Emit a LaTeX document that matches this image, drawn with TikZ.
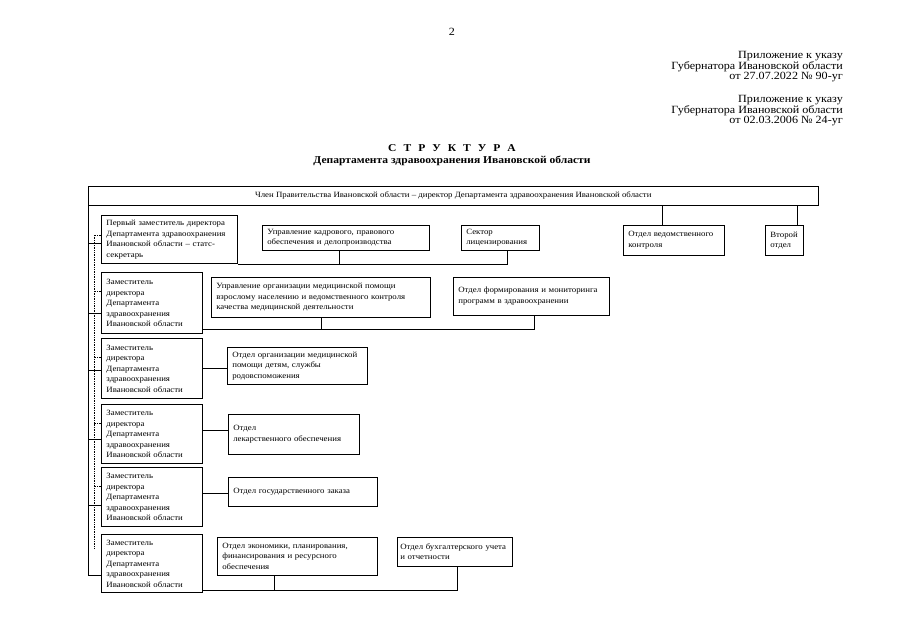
\documentclass[tikz,border=0pt]{standalone}
\usepackage{fontspec}
\setmainfont{Liberation Serif}[FakeStretch=1.1]
\usepackage{tikz}

\tikzset{
  unit/.style={draw, line width=0.6pt, anchor=north west, align=left, inner xsep=5pt, inner ysep=1pt, font=\fontsize{8}{10.5}\selectfont},
  dep/.style={unit, line width=0.9pt, text width=91pt},
  note/.style={anchor=north east, align=right, inner sep=0pt, font=\fontsize{11}{10.7}\selectfont},
  link/.style={line width=0.6pt},
  aux/.style={line width=0.7pt, densely dotted}
}

\begin{document}
\begin{tikzpicture}[x=1pt, y=-1pt]
        \useasboundingbox[fill=white] (0,0) rectangle (904,639);

        \node[anchor=north, inner sep=0pt, font=\fontsize{11}{12}\selectfont] (pg) at (452,28) {2};
        \node[note] (ann1) at (843,51) {Приложение к указу\\Губернатора Ивановской области\\от 27.07.2022 № 90-уг};
        \node[note] (ann2) at (843,95) {Приложение к указу\\Губернатора Ивановской области\\от 02.03.2006 № 24-уг};
        \node[anchor=north, align=center, inner sep=0pt, font=\bfseries\fontsize{10.5}{12}\selectfont] (title) at (452,144)
            {С\hspace{7pt}Т\hspace{7pt}Р\hspace{7pt}У\hspace{7pt}К\hspace{7pt}Т\hspace{7pt}У\hspace{7pt}Р\hspace{7pt}А\\Департамента здравоохранения Ивановской области};

        % head of the department
        \node[unit, align=center, minimum width=730pt, minimum height=19pt] (head) at (88,186)
            {Член Правительства Ивановской области – директор Департамента здравоохранения Ивановской области};

        % deputies
        \node[dep, text width=126pt, minimum height=48pt] (D1) at (101,215) {Первый заместитель директора\\Департамента здравоохранения\\Ивановской области – статс-\\секретарь};
        \node[dep, minimum height=61pt] (D2) at (101,272) {Заместитель\\директора\\Департамента\\здравоохранения\\Ивановской области};
        \node[dep, minimum height=60pt] (D3) at (101,338) {Заместитель\\директора\\Департамента\\здравоохранения\\Ивановской области};
        \node[dep, minimum height=59pt] (D4) at (101,404) {Заместитель\\директора\\Департамента\\здравоохранения\\Ивановской области};
        \node[dep, minimum height=59pt] (D5) at (101,467) {Заместитель\\директора\\Департамента\\здравоохранения\\Ивановской области};
        \node[dep, minimum height=58pt] (D6) at (101,534) {Заместитель\\директора\\Департамента\\здравоохранения\\Ивановской области};

        % departments
        \node[unit, text width=157pt, minimum height=25pt] (kadr) at (262,225) {Управление кадрового, правового\\обеспечения и делопроизводства};
        \node[unit, text width=68pt, minimum height=25pt] (lic) at (461,225) {Сектор\\лицензирования};
        \node[unit, text width=91pt, minimum height=30pt] (ved) at (623,225) {Отдел ведомственного\\контроля};
        \node[unit, text width=28pt, minimum height=30pt] (vtor) at (765,225) {Второй\\отдел};
        \node[unit, text width=209pt, minimum height=40pt] (uprorg) at (211,277) {Управление организации медицинской помощи\\взрослому населению и ведомственного контроля\\качества медицинской деятельности};
        \node[unit, text width=146pt, minimum height=38pt] (form) at (453,277) {Отдел формирования и мониторинга\\программ в здравоохранении};
        \node[unit, text width=130pt, minimum height=37pt] (det) at (227,347) {Отдел организации медицинской\\помощи детям, службы\\родовспоможения};
        \node[unit, text width=121pt, minimum height=40pt] (lek) at (228,414) {Отдел\\лекарственного обеспечения\\[8pt]};
        \node[unit, text width=139pt, minimum height=29pt] (zak) at (228,477) {Отдел государственного заказа};
        \node[unit, text width=150pt, minimum height=38pt] (eko) at (217,537) {Отдел экономики, планирования,\\финансирования и ресурсного\\обеспечения};
        \node[unit, inner xsep=3pt, text width=109pt, minimum height=29pt] (buh) at (397,537) {Отдел бухгалтерского учета\\и отчетности};

        % left spines
        \coordinate (spine) at (head.south west);
        \coordinate (dots) at ([xshift=-7pt]D1.west);
        \draw[link] (spine) |- ([yshift=-12pt]D6.west);
        \draw[link] ([yshift=-4pt]D1.west) -- ([yshift=-4pt]D1.west -| spine);
        \draw[link] ([yshift=-10pt]D2.west) -- ([yshift=-10pt]D2.west -| spine);
        \draw[link] ([yshift=-2pt]D3.west) -- ([yshift=-2pt]D3.west -| spine);
        \draw[link] ([yshift=-5pt]D4.west) -- ([yshift=-5pt]D4.west -| spine);
        \draw[link] ([yshift=-8pt]D5.west) -- ([yshift=-8pt]D5.west -| spine);
        \draw[aux] ([yshift=-20pt]D1.north west) -| ([yshift=-14pt]D6.north west -| dots);
        \draw[aux] ([yshift=-19pt]D2.north west) -- ([yshift=-19pt]D2.north west -| dots);
        \draw[aux] ([yshift=-19pt]D3.north west) -- ([yshift=-19pt]D3.north west -| dots);
        \draw[aux] ([yshift=-19pt]D4.north west) -- ([yshift=-19pt]D4.north west -| dots);
        \draw[aux] ([yshift=-19pt]D5.north west) -- ([yshift=-19pt]D5.north west -| dots);

        % top row
        \draw[link] ([xshift=-12pt]ved.north |- head.south) -- ([xshift=-12pt]ved.north);
        \draw[link] ([xshift=13pt]vtor.north |- head.south) -- ([xshift=13pt]vtor.north);
        \draw[link] (D1.south east) -| ([xshift=7pt]lic.south);
        \draw[link] ([xshift=-7pt]kadr.south) -- ([xshift=-7pt]kadr.south |- D1.south);

        % second row
        \coordinate (b2) at ([yshift=5pt]D2.south east);
        \draw[link] (b2) -| ([xshift=3pt]form.south);
        \draw[link] (uprorg.south) -- (uprorg.south |- b2);

        % single links
        \draw[link] (D3.east) -- (D3.east -| det.west);
        \draw[link] ([yshift=4pt]D4.east) -- ([yshift=4pt]D4.east -| lek.west);
        \draw[link] ([yshift=4pt]D5.east) -- ([yshift=4pt]D5.east -| zak.west);

        % last row
        \coordinate (b6) at ([yshift=3pt]D6.south east);
        \draw[link] (b6) -| ([xshift=2pt]buh.south);
        \draw[link] ([xshift=-23pt]eko.south) -- ([xshift=-23pt]eko.south |- b6);
    \end{tikzpicture}
\end{document}
